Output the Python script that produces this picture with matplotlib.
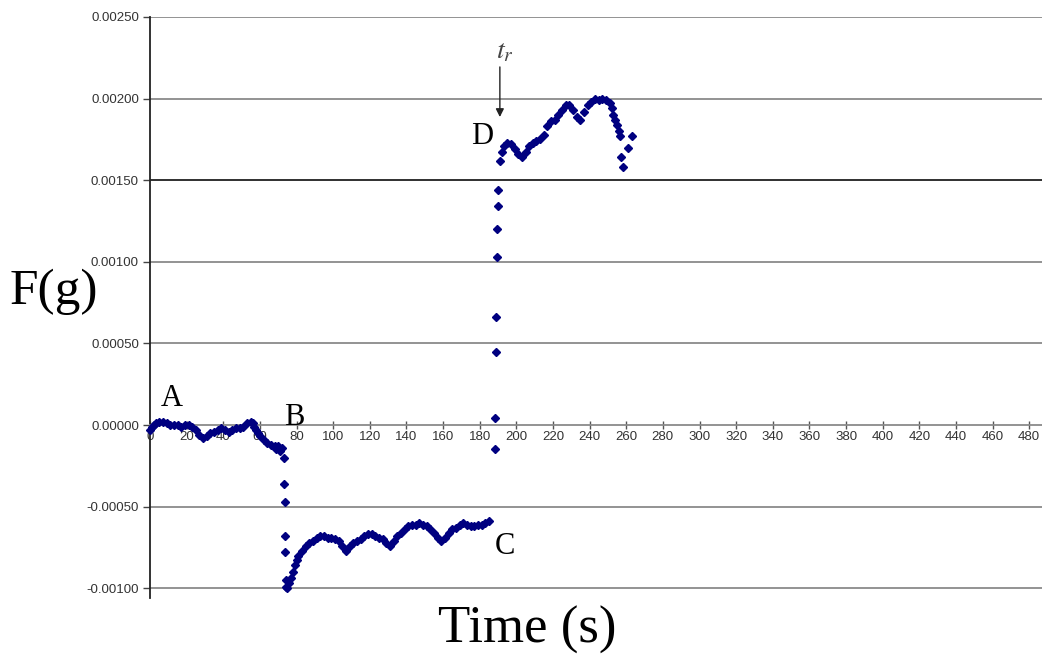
import matplotlib
matplotlib.use("Agg")
import matplotlib.pyplot as plt
from matplotlib.ticker import MultipleLocator, FormatStrFormatter

# time (s) and force (g)
time_a = [0, 1, 2, 3, 5, 7, 9, 11, 13, 15, 17, 19, 21, 23, 25, 27, 29, 31, 33, 35,
          37, 39, 41, 43, 45, 47, 49, 51, 53, 55, 56, 57, 58, 59, 60, 62, 64, 66,
          68, 69, 70, 71, 72]
force_a = [-0.00003, -0.00001, 0.00000, 0.00001, 0.00002, 0.00002, 0.00001, 0.00000,
           0.00000, 0.00000, -0.00001, 0.00000, 0.00000, -0.00001, -0.00003, -0.00006,
           -0.00008, -0.00007, -0.00005, -0.00004, -0.00003, -0.00002, -0.00003,
           -0.00004, -0.00003, -0.00002, -0.00002, -0.00001, 0.00001, 0.00002,
           0.00001, -0.00001, -0.00003, -0.00005, -0.00007, -0.00009, -0.00011,
           -0.00012, -0.00013, -0.00015, -0.00013, -0.00016, -0.00014]

time_b = [73, 73, 73.5, 73.5, 73.5]
force_b = [-0.00020, -0.00036, -0.00047, -0.00068, -0.00078]

time_c = [74, 74.5, 75, 76, 77, 78, 79, 80, 81, 83, 85, 87, 89, 91, 93, 95, 97, 99,
          101, 103, 105, 107, 109, 111, 113, 115, 117, 119, 121, 123, 125, 127, 129,
          131, 133, 135, 137, 139, 141, 143, 145, 147, 149, 151, 153, 155, 157, 159,
          161, 163, 165, 167, 169, 171, 173, 175, 177, 179, 181, 183, 185]
force_c = [-0.00095, -0.00099, -0.00100, -0.00097, -0.00094, -0.00090, -0.00086,
           -0.00083, -0.00080, -0.00077, -0.00074, -0.00072, -0.00071, -0.00069,
           -0.00068, -0.00068, -0.00069, -0.00069, -0.00070, -0.00071, -0.00074,
           -0.00077, -0.00074, -0.00072, -0.00071, -0.00070, -0.00068, -0.00067,
           -0.00067, -0.00068, -0.00069, -0.00070, -0.00072, -0.00074, -0.00071,
           -0.00068, -0.00066, -0.00064, -0.00062, -0.00061, -0.00061, -0.00060,
           -0.00061, -0.00062, -0.00064, -0.00066, -0.00069, -0.00071, -0.00069,
           -0.00066, -0.00064, -0.00063, -0.00061, -0.00060, -0.00061, -0.00062,
           -0.00062, -0.00061, -0.00061, -0.00060, -0.00059]

time_jump = [188.5, 188.5, 189, 189, 189.5, 189.5, 190, 190]
force_jump = [-0.00015, 0.00004, 0.00045, 0.00066, 0.00103, 0.00120, 0.00134, 0.00144]

time_d = [191, 192, 193, 195, 197, 199, 201, 203, 205, 207, 209, 211, 213, 215, 217,
          219, 221, 223, 225, 227, 229, 231, 233, 235, 237, 239, 241, 243, 245, 247,
          249, 251, 252, 253, 254, 255, 256, 256.5, 257, 258, 261, 263]
force_d = [0.00162, 0.00167, 0.00171, 0.00173, 0.00172, 0.00169, 0.00166, 0.00164,
           0.00167, 0.00171, 0.00173, 0.00174, 0.00175, 0.00178, 0.00183, 0.00186,
           0.00187, 0.00190, 0.00193, 0.00196, 0.00196, 0.00193, 0.00189, 0.00187,
           0.00192, 0.00196, 0.00198, 0.00200, 0.00199, 0.00200, 0.00199, 0.00197,
           0.00194, 0.00190, 0.00187, 0.00184, 0.00180, 0.00177, 0.00164, 0.00158,
           0.00170, 0.00177]

point_labels = ["A", "B", "C", "D"]
label_x = [12, 79, 193.5, 181.5]
label_y = [0.000165, 0.000045, -0.000745, 0.001765]

times = time_a + time_b + time_c + time_jump + time_d
forces = force_a + force_b + force_c + force_jump + force_d

fig = plt.figure(figsize=(10.42, 6.64), dpi=100)
ax = fig.add_axes([0.144, 0.0994, 0.856, 0.875])

for yv in [-0.001, -0.0005, 0.0005, 0.001, 0.0015, 0.002, 0.0025]:
    ax.axhline(yv, color="#202020" if yv == 0.0015 else "#8a8a8a", lw=1.3, zorder=1)

ax.plot(times, forces, ls="none", marker="D", ms=3.9, color="#000080",
        mec="#000080", zorder=3, clip_on=False)

ax.set_xlim(0, 487)
ax.set_ylim(-0.00106, 0.0025)
ax.xaxis.set_major_locator(MultipleLocator(20))
ax.yaxis.set_major_locator(MultipleLocator(0.0005))
ax.yaxis.set_major_formatter(FormatStrFormatter("%.5f"))

ax.spines["top"].set_visible(False)
ax.spines["right"].set_visible(False)
ax.spines["left"].set_color("#222222")
ax.spines["left"].set_linewidth(1.3)
ax.spines["bottom"].set_position(("data", 0))
ax.spines["bottom"].set_color("#8a8a8a")
ax.spines["bottom"].set_linewidth(1.3)

tick_font = ["Liberation Sans Narrow", "Liberation Sans", "DejaVu Sans"]
ax.tick_params(axis="y", direction="out", length=5, width=1, color="#444444",
               labelsize=9.5, labelcolor="#333333", pad=3)
ax.tick_params(axis="x", direction="inout", length=6, width=1, color="#555555",
               labelsize=9.5, labelcolor="#333333", pad=1)
for lab in ax.get_xticklabels() + ax.get_yticklabels():
    lab.set_family(tick_font)

serif = ["Liberation Serif", "DejaVu Serif"]
for s, x, y in zip(point_labels, label_x, label_y):
    ax.text(x, y, s, fontsize=22, family=serif, ha="center", va="center", zorder=4)

ax.annotate("", xy=(191, 0.001887), xytext=(191, 0.002194),
            arrowprops=dict(arrowstyle="-|>", color="#222222", lw=1,
                            mutation_scale=12, shrinkA=0, shrinkB=0))
ax.text(193.5, 0.002298, r"$t_r$", fontsize=20, ha="center", va="center",
        math_fontfamily="stix", color="#444444")

fig.text(0.052, 0.56, "F(g)", fontsize=37, family=serif, ha="center", va="center")
fig.text(0.506, 0.051, "Time (s)", fontsize=38, family=serif, ha="center", va="center")

fig.savefig("out.png", dpi=100)
